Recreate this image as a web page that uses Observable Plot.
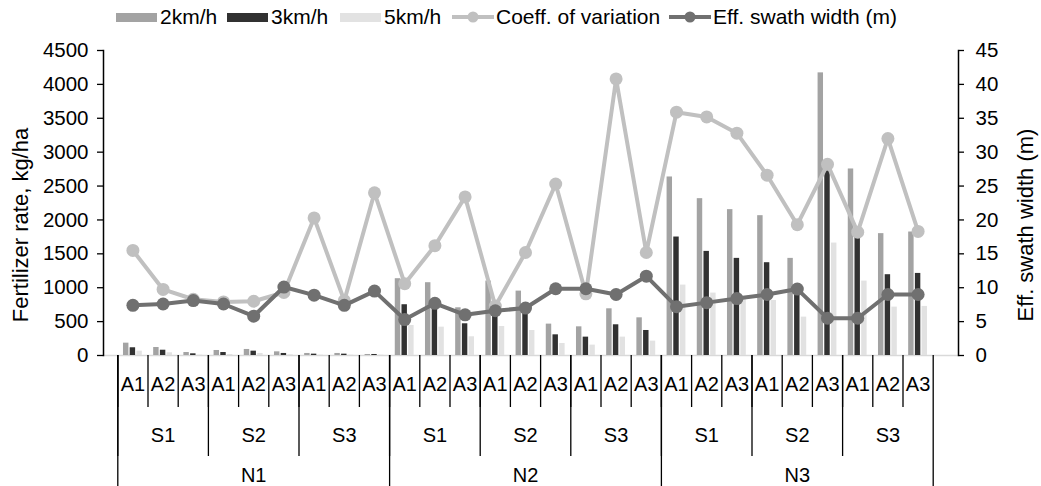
<!DOCTYPE html>
<html>
<head>
<meta charset="utf-8">
<script src="https://cdn.jsdelivr.net/npm/d3@7"></script>
<script src="https://cdn.jsdelivr.net/npm/@observablehq/plot@0.6"></script>
<style>
  body { margin: 0; background: #fff; font-family: "Liberation Sans", Arial, sans-serif; }
  #legend { position: relative; width: 1041px; height: 34px; font-size: 21px; color: #000; }
  .item { position: absolute; top: 4px; height: 26px; display: flex; align-items: center; white-space: nowrap; }
  .sw { width: 41px; height: 9px; margin-right: 3px; }
  .ln { margin-right: 2px; }
</style>
</head>
<body>
<div id="legend"></div>
<div id="chart"></div>
<script>
// ---- data ----
const nLevels = ["N1", "N2", "N3"];
const sLevels = ["S1", "S2", "S3"];
const aLevels = ["A1", "A2", "A3"];
const seriesNames = ["2km/h", "3km/h", "5km/h"];
const lineNames = ["Coeff. of variation", "Eff. swath width (m)"];

// Fertilizer rate, kg/ha (order: N1 S1 A1, A2, A3, N1 S2 ..., N3 S3 A3)
const rate2 = [182, 118, 44, 74, 89, 54, 30, 30, 15,
               1133, 1074, 704, 1098, 950, 463, 423, 689, 556,
               2634, 2314, 2152, 2063, 1433, 4170, 2752, 1798, 1822];
const rate3 = [114, 78, 25, 44, 64, 30, 20, 20, 15,
               749, 760, 468, 725, 630, 305, 271, 453, 369,
               1748, 1536, 1433, 1369, 946, 2758, 1800, 1192, 1211];
const rate5 = [64, 40, 5, 15, 30, 10, 5, 5, 5,
               443, 418, 276, 428, 369, 177, 153, 271, 212,
               1039, 921, 860, 812, 566, 1659, 1098, 714, 724];
// right axis
const coeffVar = [15.5, 9.75, 8.3, 7.9, 8.0, 9.3, 20.3, 8.1, 24.0,
                  10.6, 16.2, 23.4, 7.3, 15.2, 25.3, 9.1, 40.8, 15.2,
                  35.9, 35.2, 32.8, 26.6, 19.3, 28.2, 18.2, 32.0, 18.3];
const swathWidth = [7.4, 7.6, 8.1, 7.6, 5.8, 10.1, 8.9, 7.4, 9.5,
                    5.3, 7.7, 6.0, 6.6, 7.0, 9.85, 9.85, 9.0, 11.7,
                    7.2, 7.8, 8.4, 9.0, 9.8, 5.5, 5.5, 9.0, 9.0];

const leftTicks = [0, 500, 1000, 1500, 2000, 2500, 3000, 3500, 4000, 4500];
const rightTicks = [0, 5, 10, 15, 20, 25, 30, 35, 40, 45];
const leftTitle = "Fertilizer rate, kg/ha";
const rightTitle = "Eff. swath width (m)";

// ---- styles ----
const barColors = ["#a3a3a3", "#313131", "#e2e2e2"];
const cvColor = "#c0c0c0";
const swColor = "#707070";
const FONT = "'Liberation Sans', Arial, sans-serif";

// ---- build tables ----
const cats = [];
nLevels.forEach(n => sLevels.forEach(s => aLevels.forEach(a => cats.push({i: cats.length, n, s, a}))));
const rateSeries = [rate2, rate3, rate5];
const bars = [];
cats.forEach(c => seriesNames.forEach((name, k) => bars.push({i: c.i, k, series: name, value: rateSeries[k][c.i]})));
const pts = cats.map(c => ({i: c.i, cv: coeffVar[c.i], sw: swathWidth[c.i]}));
const sGroups = [];
nLevels.forEach(n => sLevels.forEach(s => sGroups.push({j: sGroups.length, s})));
const nGroups = nLevels.map((n, j) => ({j, n}));

const ratio = leftTicks[leftTicks.length - 1] / rightTicks[rightTicks.length - 1];
const step = 0.222, bw = 0.18;
const cx = d => d.i + 0.5;

// ---- legend ----
const legend = document.getElementById("legend");
const legendItems = [
  {type: "bar", color: barColors[0], label: seriesNames[0], left: 116},
  {type: "bar", color: barColors[1], label: seriesNames[1], left: 227},
  {type: "bar", color: barColors[2], label: seriesNames[2], left: 340},
  {type: "line", color: cvColor, label: lineNames[0], left: 452},
  {type: "line", color: swColor, label: lineNames[1], left: 669}
];
legendItems.forEach(it => {
  const d = document.createElement("div");
  d.className = "item";
  d.style.left = it.left + "px";
  if (it.type === "bar") {
    d.innerHTML = `<div class="sw" style="background:${it.color}"></div><span>${it.label}</span>`;
  } else {
    d.innerHTML = `<svg class="ln" width="42" height="14"><line x1="0" x2="42" y1="7" y2="7" stroke="${it.color}" stroke-width="4"/><circle cx="21" cy="7" r="5.5" fill="${it.color}"/></svg><span>${it.label}</span>`;
  }
  legend.appendChild(d);
});

// ---- chart ----
const H = 452, MT = 16, MB = 131;
const frameH = H - MT - MB;

const chart = Plot.plot({
  width: 1041,
  height: H,
  marginTop: MT,
  marginBottom: MB,
  marginLeft: 103,
  marginRight: 83,
  style: {fontFamily: FONT, fontSize: "20px", color: "#000", background: "#fff", overflow: "visible"},
  x: {domain: [0, 27], range: [117.3, 932.7], axis: null},
  y: {domain: [0, 4500], axis: null},
  color: {domain: seriesNames, range: barColors},
  marks: [
    Plot.ruleY([0], {stroke: "#d9d9d9", strokeWidth: 1.5}),
    Plot.rectY(bars, {
      x1: d => cx(d) + (d.k - 1) * step - bw / 2,
      x2: d => cx(d) + (d.k - 1) * step + bw / 2,
      y1: 0, y2: "value", fill: "series"
    }),
    Plot.line(pts, {x: cx, y: d => d.cv * ratio, stroke: cvColor, strokeWidth: 4}),
    Plot.dot(pts, {x: cx, y: d => d.cv * ratio, r: 6.5, fill: cvColor}),
    Plot.line(pts, {x: cx, y: d => d.sw * ratio, stroke: swColor, strokeWidth: 4}),
    Plot.dot(pts, {x: cx, y: d => d.sw * ratio, r: 6.5, fill: swColor}),
    // axis lines
    Plot.frame({anchor: "left", stroke: "#000", strokeWidth: 1.5}),
    Plot.frame({anchor: "right", stroke: "#000", strokeWidth: 1.5}),
    Plot.axisY(leftTicks, {anchor: "left", tickSize: 6, tickPadding: 9, label: null, fontSize: 20.5, strokeWidth: 1.3, tickFormat: d => String(d)}),
    Plot.axisY(rightTicks.map(v => v * ratio), {anchor: "right", tickSize: 5, tickPadding: 12, label: null, fontSize: 20.5, strokeWidth: 1.3, tickFormat: d => String(d / ratio)}),
    // axis titles
    Plot.text([leftTitle], {frameAnchor: "left", rotate: -90, textAnchor: "middle", dx: -83, dy: 22, fontSize: 22}),
    Plot.text([rightTitle], {frameAnchor: "right", rotate: -90, textAnchor: "middle", dx: 67, dy: 22, fontSize: 22}),
    // hierarchical category axis
    Plot.ruleX(cats, {x: d => d.i, insetTop: frameH, insetBottom: -52, stroke: "#000", strokeWidth: 1.3}),
    Plot.ruleX(sGroups, {x: d => d.j * 3, insetTop: frameH, insetBottom: -101, stroke: "#000", strokeWidth: 1.3}),
    Plot.ruleX(nGroups, {x: d => d.j * 9, insetTop: frameH, insetBottom: -131, stroke: "#000", strokeWidth: 1.3}),
    Plot.ruleX([27], {x: d => d, insetTop: frameH, insetBottom: -131, stroke: "#000", strokeWidth: 1.3}),
    Plot.text(cats, {x: cx, text: "a", frameAnchor: "bottom", dy: 35, fontSize: 20}),
    Plot.text(sGroups, {x: d => d.j * 3 + 1.5, text: "s", frameAnchor: "bottom", dy: 86, fontSize: 20}),
    Plot.text(nGroups, {x: d => d.j * 9 + 4.5, text: "n", frameAnchor: "bottom", dy: 126, fontSize: 20})
  ]
});
document.getElementById("chart").appendChild(chart);
</script>
</body>
</html>
